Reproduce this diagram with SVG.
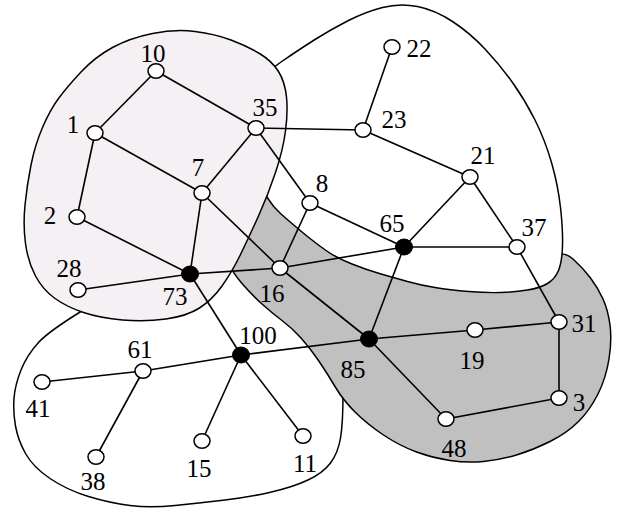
<svg xmlns="http://www.w3.org/2000/svg" width="620" height="516" viewBox="0 0 620 516">
<style>
.reg{stroke:#000;stroke-width:1.5;fill:none}
.e{stroke:#000;stroke-width:1.6;fill:none}
.n{fill:#fff;stroke:#000;stroke-width:1.5}
.b{fill:#000;stroke:#000;stroke-width:1}
.t{font-family:"Liberation Serif","Times New Roman",serif;font-size:25px;fill:#000;text-anchor:middle}
</style>
<rect width="620" height="516" fill="#fff"/>
<g id="regions">
<path class="reg" d="M 90,306 Q50,330 38.5,342.5 Q27,355 21,370 Q15,385 14,398.5 Q13,412 15.5,426 Q18,440 25.5,453.5 Q33,467 50,478.5 Q67,490 88.5,496.5 Q110,503 130,505.5 Q150,508 175,505.5 Q200,503 225,500 Q250,497 271.5,492 Q293,487 308,480 Q323,473 330.5,463 Q338,453 340.5,438 Q343,423 343,394"/>
<path class="reg" style="fill:#c0c0c0" d="M 242,283.5 Q252,295 262,304 Q272,313 282,320.5 Q292,328 301,338 Q310,348 318.5,360.5 Q327,373 335,386.5 Q343,400 355,412 Q367,424 383.5,435 Q400,446 416.5,452 Q433,458 450,460.5 Q467,463 483.5,461.5 Q500,460 516.5,455 Q533,450 550,441.5 Q567,433 578.5,421.5 Q590,410 598,394 Q606,378 609,359 Q612,340 610,325 Q608,310 603,299 Q598,288 590.5,278 Q583,268 573,259 Q563,250 551.5,257.5 Q540,265 510,270 Q480,275 440,268.5 Q400,262 365,248.5 Q330,235 310,212.5 Q290,190 270,190 Q250,190 235,217.5 Q220,245 226,258.5 Q232,272 242,283.5 Z"/>
<path class="reg" style="fill:#fff" d="M 258.5,87.5 Q262,75 281,62 Q300,49 315,39.5 Q330,30 347.5,21 Q365,12 382.5,7.5 Q400,3 417.5,6.5 Q435,10 452.5,21.5 Q470,33 485,49 Q500,65 512.5,82.5 Q525,100 535,120 Q545,140 551.5,162.5 Q558,185 560.5,207.5 Q563,230 562.5,246 Q562,262 558.5,270.5 Q555,279 547.5,283.5 Q540,288 527.5,290 Q515,292 501,292.5 Q487,293 468.5,291.5 Q450,290 435,287.5 Q420,285 407.5,281.5 Q395,278 381,274 Q367,270 352,264 Q337,258 327.5,251.5 Q318,245 307.5,236.5 Q297,228 281,214 Q265,200 257.5,175 Q250,150 252.5,125 Q255,100 258.5,87.5 Z"/>
<path class="reg" style="fill:#f5f0f4" d="M 152.5,33.5 Q175,29 195,31.5 Q215,34 231,40 Q247,46 259.5,53.5 Q272,61 278.5,71.5 Q285,82 286.5,97 Q288,112 285.5,131 Q283,150 275.5,172.5 Q268,195 258.5,216 Q249,237 240.5,254.5 Q232,272 222,286 Q212,300 199.5,308 Q187,316 166,319 Q145,322 122.5,320 Q100,318 83.5,312.5 Q67,307 55,298.5 Q43,290 35.5,276 Q28,262 25.5,243.5 Q23,225 25,205 Q27,185 31,165 Q35,145 42.5,127.5 Q50,110 58.5,98.5 Q67,87 81,72 Q95,57 112.5,47.5 Q130,38 152.5,33.5 Z"/>
</g>
<g id="connectors">
<line class="e" x1="156" y1="71" x2="95" y2="133"/>
<line class="e" x1="156" y1="71" x2="256" y2="128"/>
<line class="e" x1="95" y1="133" x2="77" y2="217"/>
<line class="e" x1="95" y1="133" x2="202" y2="193"/>
<line class="e" x1="256" y1="128" x2="202" y2="193"/>
<line class="e" x1="256" y1="128" x2="363" y2="130"/>
<line class="e" x1="256" y1="128" x2="310" y2="203"/>
<line class="e" x1="77" y1="217" x2="190" y2="274"/>
<line class="e" x1="202" y1="193" x2="190" y2="274"/>
<line class="e" x1="202" y1="193" x2="280" y2="268"/>
<line class="e" x1="78" y1="290" x2="190" y2="274"/>
<line class="e" x1="190" y1="274" x2="280" y2="268"/>
<line class="e" x1="190" y1="274" x2="241" y2="355"/>
<line class="e" x1="310" y1="203" x2="280" y2="268"/>
<line class="e" x1="310" y1="203" x2="404" y2="247"/>
<line class="e" x1="280" y1="268" x2="404" y2="247"/>
<line class="e" x1="280" y1="268" x2="369" y2="339"/>
<line class="e" x1="363" y1="130" x2="392" y2="47"/>
<line class="e" x1="363" y1="130" x2="470" y2="177"/>
<line class="e" x1="470" y1="177" x2="404" y2="247"/>
<line class="e" x1="470" y1="177" x2="517" y2="247"/>
<line class="e" x1="404" y1="247" x2="517" y2="247"/>
<line class="e" x1="404" y1="247" x2="369" y2="339"/>
<line class="e" x1="517" y1="247" x2="559" y2="322"/>
<line class="e" x1="369" y1="339" x2="475" y2="330"/>
<line class="e" x1="475" y1="330" x2="559" y2="322"/>
<line class="e" x1="559" y1="322" x2="559" y2="398"/>
<line class="e" x1="559" y1="398" x2="446" y2="419"/>
<line class="e" x1="446" y1="419" x2="369" y2="339"/>
<line class="e" x1="369" y1="339" x2="241" y2="355"/>
<line class="e" x1="241" y1="355" x2="143" y2="371"/>
<line class="e" x1="143" y1="371" x2="42" y2="382"/>
<line class="e" x1="143" y1="371" x2="96" y2="457"/>
<line class="e" x1="241" y1="355" x2="202" y2="441"/>
<line class="e" x1="241" y1="355" x2="303" y2="436"/>
</g>
<g id="n10"><ellipse class="n" cx="156" cy="71" rx="8" ry="7.2"/><text class="t" x="153" y="62">10</text></g>
<g id="n1"><ellipse class="n" cx="95" cy="133" rx="8" ry="7.2"/><text class="t" x="73" y="133">1</text></g>
<g id="n35"><ellipse class="n" cx="256" cy="128" rx="8" ry="7.2"/><text class="t" x="265" y="116">35</text></g>
<g id="n7"><ellipse class="n" cx="202" cy="193" rx="8" ry="7.2"/><text class="t" x="198" y="176">7</text></g>
<g id="n2"><ellipse class="n" cx="77" cy="217" rx="8" ry="7.2"/><text class="t" x="50" y="224">2</text></g>
<g id="n22"><ellipse class="n" cx="392" cy="47" rx="8" ry="7.2"/><text class="t" x="419" y="57">22</text></g>
<g id="n23"><ellipse class="n" cx="363" cy="130" rx="8" ry="7.2"/><text class="t" x="394" y="128">23</text></g>
<g id="n21"><ellipse class="n" cx="470" cy="177" rx="8" ry="7.2"/><text class="t" x="483" y="164">21</text></g>
<g id="n8"><ellipse class="n" cx="310" cy="203" rx="8" ry="7.2"/><text class="t" x="322" y="192">8</text></g>
<g id="n65"><ellipse class="b" cx="404" cy="247" rx="8.5" ry="8"/><text class="t" x="392" y="232">65</text></g>
<g id="n37"><ellipse class="n" cx="517" cy="247" rx="8" ry="7.2"/><text class="t" x="534" y="236">37</text></g>
<g id="n28"><ellipse class="n" cx="78" cy="290" rx="8" ry="7.2"/><text class="t" x="69" y="277">28</text></g>
<g id="n73"><ellipse class="b" cx="190" cy="274" rx="8.5" ry="8"/><text class="t" x="175" y="305">73</text></g>
<g id="n16"><ellipse class="n" cx="280" cy="268" rx="8" ry="7.2"/><text class="t" x="272" y="302">16</text></g>
<g id="n100"><ellipse class="b" cx="241" cy="355" rx="8.5" ry="8"/><text class="t" x="258" y="344">100</text></g>
<g id="n61"><ellipse class="n" cx="143" cy="371" rx="8" ry="7.2"/><text class="t" x="140" y="358">61</text></g>
<g id="n41"><ellipse class="n" cx="42" cy="382" rx="8" ry="7.2"/><text class="t" x="38" y="417">41</text></g>
<g id="n38"><ellipse class="n" cx="96" cy="457" rx="8" ry="7.2"/><text class="t" x="93" y="490">38</text></g>
<g id="n15"><ellipse class="n" cx="202" cy="441" rx="8" ry="7.2"/><text class="t" x="199" y="477">15</text></g>
<g id="n11"><ellipse class="n" cx="303" cy="436" rx="8" ry="7.2"/><text class="t" x="305" y="472">11</text></g>
<g id="n85"><ellipse class="b" cx="369" cy="339" rx="8.5" ry="8"/><text class="t" x="353" y="378">85</text></g>
<g id="n19"><ellipse class="n" cx="475" cy="330" rx="8" ry="7.2"/><text class="t" x="472" y="369">19</text></g>
<g id="n31"><ellipse class="n" cx="559" cy="322" rx="8" ry="7.2"/><text class="t" x="584" y="332">31</text></g>
<g id="n3"><ellipse class="n" cx="559" cy="398" rx="8" ry="7.2"/><text class="t" x="579" y="411">3</text></g>
<g id="n48"><ellipse class="n" cx="446" cy="419" rx="8" ry="7.2"/><text class="t" x="454" y="457">48</text></g>
</svg>
